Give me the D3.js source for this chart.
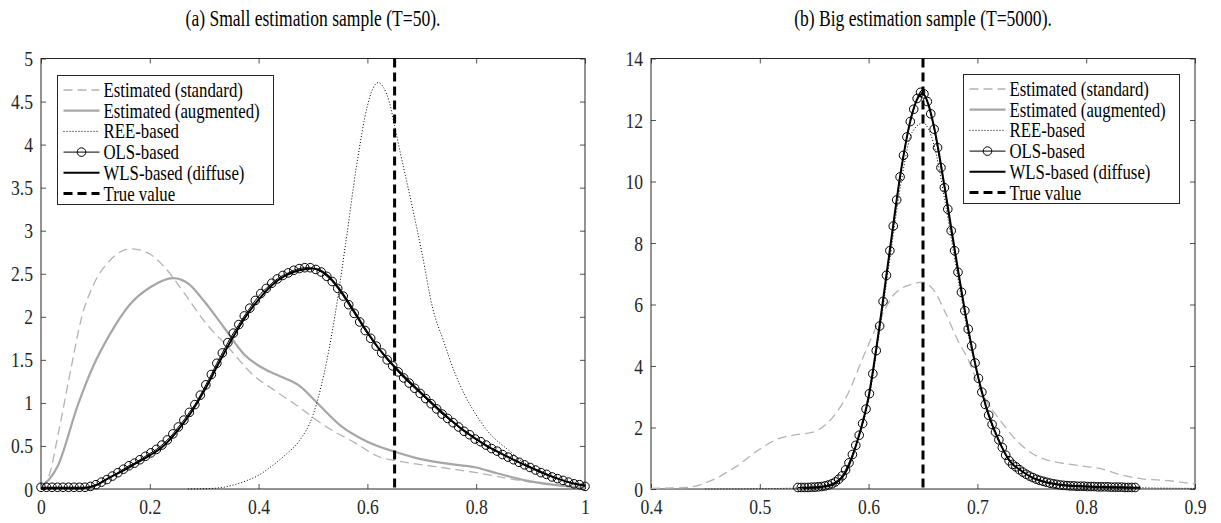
<!DOCTYPE html>
<html><head><meta charset="utf-8">
<script src="https://cdn.jsdelivr.net/npm/d3@7"></script>
<style>
body{margin:0;background:#fff;}
svg{display:block;}
svg text{font-family:"Liberation Serif","Times New Roman",serif !important;}
</style></head>
<body><svg id="c" width="1221" height="523"></svg>
<script>
// ---------------- DATA ----------------
const legendLabels = ["Estimated (standard)","Estimated (augmented)","REE-based","OLS-based","WLS-based (diffuse)","True value"];
const titles = ["(a) Small estimation sample (T=50).","(b) Big estimation sample (T=5000)."];
const trueValue = 0.65;

// Panel (a)
const xTicksA = [0,0.2,0.4,0.6,0.8,1];
const yTicksA = [0,0.5,1,1.5,2,2.5,3,3.5,4,4.5,5];
const stdA = [[0,0.02],[0.017,0.2],[0.031,0.62],[0.053,1.33],[0.075,2.0],[0.097,2.38],[0.126,2.65],[0.166,2.79],[0.2,2.73],[0.228,2.57],[0.265,2.26],[0.3,1.95],[0.345,1.64],[0.389,1.33],[0.433,1.13],[0.477,0.94],[0.52,0.74],[0.579,0.53],[0.623,0.37],[0.652,0.33],[0.725,0.26],[0.8,0.19],[0.87,0.11],[0.94,0.05],[1.0,0.01]];
const augA = [[0,0.02],[0.031,0.27],[0.068,0.98],[0.097,1.44],[0.126,1.79],[0.163,2.14],[0.2,2.34],[0.243,2.45],[0.272,2.38],[0.3,2.18],[0.337,1.87],[0.374,1.56],[0.418,1.37],[0.447,1.29],[0.477,1.19],[0.506,1.01],[0.55,0.74],[0.6,0.55],[0.652,0.43],[0.696,0.35],[0.74,0.3],[0.8,0.25],[0.84,0.18],[0.89,0.1],[0.94,0.05],[1.0,0.01]];
const reeA = [[0.27,0],[0.3,0.003],[0.33,0.015],[0.35,0.04],[0.375,0.09],[0.4,0.16],[0.425,0.27],[0.45,0.4],[0.475,0.56],[0.5,0.86],[0.52,1.33],[0.54,2.0],[0.56,2.85],[0.58,3.75],[0.6,4.45],[0.61,4.65],[0.62,4.72],[0.63,4.66],[0.64,4.5],[0.65,4.22],[0.66,3.92],[0.68,3.35],[0.7,2.75],[0.72,2.1],[0.74,1.72],[0.76,1.36],[0.78,1.08],[0.8,0.86],[0.82,0.68],[0.84,0.55],[0.86,0.45],[0.88,0.34],[0.9,0.26],[0.92,0.19],[0.94,0.14],[0.96,0.1],[0.98,0.06],[1.0,0.03]];
const olsRangeA = [0,1];
const olsA = [0.02,0.02,0.02,0.02,0.02,0.02,0.02,0.02,0.02,0.03,0.05,0.08,0.11,0.15,0.19,0.23,0.27,0.30,0.34,0.38,
0.42,0.46,0.51,0.57,0.64,0.72,0.80,0.89,0.98,1.09,1.21,1.33,1.46,1.58,1.70,1.81,1.91,2.01,2.10,2.19,
2.27,2.33,2.39,2.44,2.48,2.51,2.54,2.56,2.57,2.57,2.55,2.52,2.47,2.41,2.33,2.24,2.14,2.04,1.94,1.84,
1.75,1.66,1.58,1.50,1.43,1.36,1.29,1.23,1.17,1.11,1.05,0.99,0.93,0.87,0.82,0.77,0.72,0.67,0.63,0.58,
0.55,0.51,0.47,0.44,0.40,0.37,0.34,0.31,0.28,0.25,0.22,0.19,0.17,0.14,0.12,0.10,0.08,0.06,0.05,0.03];
const wlsA = [[0,0.01],[0.025,0.01],[0.05,0.01],[0.075,0.01],[0.1,0.04],[0.125,0.13],[0.15,0.21],[0.175,0.3],[0.2,0.39],[0.225,0.5],[0.25,0.67],[0.275,0.88],[0.3,1.14],[0.325,1.44],[0.35,1.73],[0.375,1.99],[0.4,2.2],[0.425,2.37],[0.45,2.48],[0.475,2.54],[0.5,2.56],[0.525,2.49],[0.55,2.31],[0.575,2.07],[0.6,1.82],[0.625,1.6],[0.65,1.42],[0.675,1.26],[0.7,1.11],[0.725,0.96],[0.75,0.82],[0.775,0.69],[0.8,0.58],[0.825,0.48],[0.85,0.4],[0.875,0.32],[0.9,0.25],[0.925,0.18],[0.95,0.12],[0.975,0.07],[1.0,0.04]];

// Panel (b)
const xTicksB = [0.4,0.5,0.6,0.7,0.8,0.9];
const yTicksB = [0,2,4,6,8,10,12,14];
const stdB = [[0.4,0.02],[0.433,0.05],[0.455,0.27],[0.477,0.7],[0.498,1.25],[0.516,1.62],[0.534,1.77],[0.549,1.85],[0.567,2.33],[0.581,3.1],[0.595,4.29],[0.61,5.48],[0.624,6.35],[0.642,6.68],[0.649,6.73],[0.66,6.46],[0.671,5.7],[0.682,4.83],[0.692,4.18],[0.703,3.2],[0.721,2.23],[0.739,1.47],[0.757,1.03],[0.793,0.76],[0.815,0.65],[0.829,0.49],[0.851,0.33],[0.876,0.27],[0.9,0.16]];
const reeB = [[0.45,0],[0.5,0.01],[0.54,0.04],[0.56,0.1],[0.57,0.22],[0.58,0.6],[0.59,1.55],[0.6,2.9],[0.61,5.1],[0.62,7.6],[0.63,10.0],[0.64,11.6],[0.65,11.9],[0.66,11.2],[0.67,9.4],[0.68,7.3],[0.69,5.3],[0.7,3.7],[0.71,2.4],[0.72,1.5],[0.73,0.9],[0.74,0.6],[0.75,0.38],[0.76,0.25],[0.78,0.12],[0.8,0.08],[0.85,0.04],[0.9,0.02]];
const olsRangeB = [0.535,0.845];
const olsB = [0.05,0.05,0.05,0.05,0.06,0.06,0.07,0.08,0.10,0.13,0.17,0.23,0.32,0.43,0.62,0.85,1.12,1.42,1.75,2.13,
2.6,3.1,3.75,4.5,5.3,6.1,6.95,7.75,8.55,9.4,10.15,10.85,11.45,11.95,12.35,12.7,12.9,12.85,12.6,12.2,
11.7,11.1,10.45,9.8,9.1,8.4,7.75,7.05,6.4,5.8,5.2,4.65,4.1,3.6,3.15,2.75,2.4,2.1,1.85,1.6,
1.35,1.1,0.92,0.8,0.72,0.63,0.55,0.48,0.42,0.37,0.32,0.28,0.25,0.22,0.19,0.17,0.15,0.13,0.12,0.11,
0.10,0.10,0.09,0.09,0.09,0.08,0.08,0.08,0.07,0.07,0.07,0.07,0.06,0.06,0.06,0.06,0.05,0.05,0.05,0.05];
const wlsB = [[0.54,0.03],[0.56,0.08],[0.57,0.2],[0.58,0.62],[0.59,1.6],[0.6,3.0],[0.61,5.3],[0.62,7.9],[0.63,10.4],[0.64,12.2],[0.645,12.7],[0.65,12.85],[0.655,12.5],[0.66,11.8],[0.67,9.8],[0.68,7.6],[0.69,5.5],[0.7,3.75],[0.71,2.45],[0.72,1.55],[0.73,0.9],[0.74,0.6],[0.75,0.38],[0.76,0.25],[0.78,0.12],[0.8,0.08],[0.85,0.04]];

// ---------------- DRAW ----------------
const svg = d3.select("#c");
const axisColor = "#262626";
const FONT = '"Liberation Serif", "Times New Roman", serif';
const SX = 0.8; // horizontal compression of glyphs (figure was stretched vertically)

function panel(o){
  const g = svg.append("g");
  const x = d3.scaleLinear().domain(o.xd).range([o.x0, o.x1]);
  const y = d3.scaleLinear().domain(o.yd).range([o.y1, o.y0]);
  const line = d3.line().x(d=>x(d[0])).y(d=>y(d[1])).curve(d3.curveMonotoneX);

  // title
  g.append("text").attr("transform",`translate(${(o.x0+o.x1)/2},25.5) scale(0.78,1)`).attr("text-anchor","middle")
    .style("font-family",FONT).style("font-size","22.5px").attr("fill","#000").text(o.title);

  // axes
  const xa = g.append("g").attr("transform",`translate(0,${o.y1})`)
    .call(d3.axisBottom(x).tickValues(o.xt).tickFormat(d=>String(d)).tickSizeInner(-5).tickSizeOuter(0).tickPadding(9));
  const xt = g.append("g").attr("transform",`translate(0,${o.y0})`)
    .call(d3.axisTop(x).tickValues(o.xt).tickFormat("").tickSizeInner(-5).tickSizeOuter(0));
  const ya = g.append("g").attr("transform",`translate(${o.x0},0)`)
    .call(d3.axisLeft(y).tickValues(o.yt).tickFormat(d=>String(d)).tickSizeInner(-5).tickSizeOuter(0).tickPadding(10));
  const yr = g.append("g").attr("transform",`translate(${o.x1},0)`)
    .call(d3.axisRight(y).tickValues(o.yt).tickFormat("").tickSizeInner(-5).tickSizeOuter(0));
  [xa,xt,ya,yr].forEach(a=>{
    a.attr("font-family",null).attr("font-size",null);
    a.select(".domain").remove();
    a.selectAll("line").attr("stroke",axisColor).attr("stroke-width",0.8);
    a.selectAll("text").style("font-family",FONT).style("font-size","22px").attr("fill",axisColor)
      .attr("transform",`scale(${SX},1)`);
  });
  g.append("rect").attr("x",o.x0).attr("y",o.y0).attr("width",o.x1-o.x0).attr("height",o.y1-o.y0)
    .attr("fill","none").attr("stroke",axisColor).attr("stroke-width",1);

  // curves
  g.append("path").datum(o.std).attr("d",line).attr("fill","none").attr("stroke","#b3b3b3").attr("stroke-width",1.3).attr("stroke-dasharray","9,5");
  if(o.aug) g.append("path").datum(o.aug).attr("d",line).attr("fill","none").attr("stroke","#a6a6a6").attr("stroke-width",2.2);
  g.append("path").datum(o.ree).attr("d",line).attr("fill","none").attr("stroke","#000").attr("stroke-width",1).attr("stroke-dasharray","1,2");
  const step = (o.olsRange[1]-o.olsRange[0])/(o.ols.length-1);
  const olsPts = o.ols.map((v,i)=>[o.olsRange[0]+i*step, v]);
  g.append("path").datum(olsPts).attr("d",line).attr("fill","none").attr("stroke","#000").attr("stroke-width",1);
  g.append("g").selectAll("circle").data(olsPts).join("circle")
    .attr("cx",d=>x(d[0])).attr("cy",d=>y(d[1])).attr("r",4.3)
    .attr("fill","none").attr("stroke","#000").attr("stroke-width",1);
  g.append("path").datum(o.wls).attr("d",line).attr("fill","none").attr("stroke","#000").attr("stroke-width",2);
  g.append("line").attr("x1",x(trueValue)).attr("x2",x(trueValue)).attr("y1",o.y0).attr("y2",o.y1)
    .attr("stroke","#000").attr("stroke-width",3).attr("stroke-dasharray","9,5");

  // legend
  const L = g.append("g").attr("transform",`translate(${o.lx},${o.ly})`);
  L.append("rect").attr("width",o.lw).attr("height",129).attr("fill","#fff").attr("stroke",axisColor).attr("stroke-width",1);
  const styles = [
    {c:"#b3b3b3",w:1.3,da:"9,5"},
    {c:"#a6a6a6",w:2.2,da:null},
    {c:"#000",w:1,da:"1,2"},
    {c:"#000",w:1,da:null,m:true},
    {c:"#000",w:2,da:null},
    {c:"#000",w:3,da:"9,5"}
  ];
  legendLabels.forEach((lab,i)=>{
    const cy = 14.5 + i*20.7;
    const s = styles[i];
    const ln = L.append("line").attr("x1",6).attr("x2",42).attr("y1",cy).attr("y2",cy)
      .attr("stroke",s.c).attr("stroke-width",s.w);
    if(s.da) ln.attr("stroke-dasharray",s.da);
    if(s.m) L.append("circle").attr("cx",24).attr("cy",cy).attr("r",4.3).attr("fill","none").attr("stroke","#000");
    L.append("text").attr("transform",`translate(46,${cy}) scale(0.84,1)`).attr("dy","0.35em")
      .style("font-family",FONT).style("font-size","20px").attr("fill","#000").text(lab);
  });
}

panel({x0:41,x1:585,y0:58.5,y1:489,xd:[0,1],yd:[0,5],xt:xTicksA,yt:yTicksA,title:titles[0],
  std:stdA,aug:augA,ree:reeA,ols:olsA,olsRange:olsRangeA,wls:wlsA,lx:57.5,ly:75.5,lw:216});
panel({x0:651,x1:1195,y0:58.5,y1:489,xd:[0.4,0.9],yd:[0,14],xt:xTicksB,yt:yTicksB,title:titles[1],
  std:stdB,aug:null,ree:reeB,ols:olsB,olsRange:olsRangeB,wls:wlsB,lx:963.5,ly:74.5,lw:216});
</script>
</body></html>
